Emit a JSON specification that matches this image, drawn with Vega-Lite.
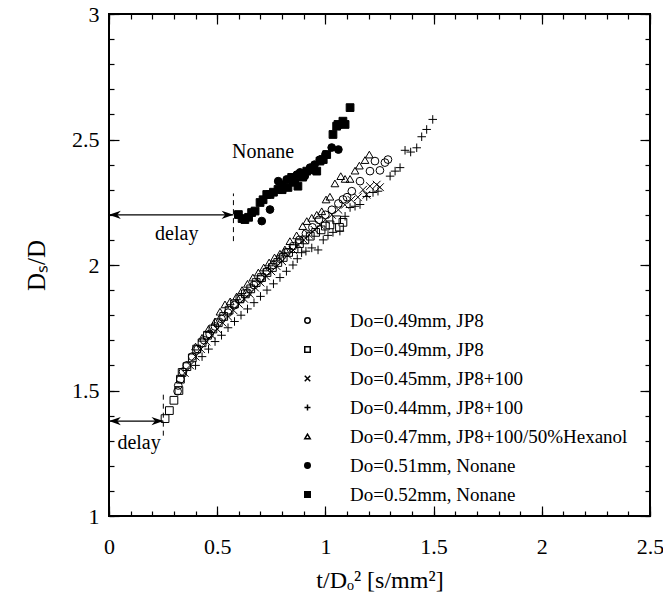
{
  "$schema": "https://vega.github.io/schema/vega-lite/v6.json",
  "width": 541,
  "height": 502,
  "autosize": "none",
  "padding": {"left": 109, "top": 14, "right": 13, "bottom": 93},
  "background": "white",
  "config": {
    "view": {"stroke": "black", "strokeWidth": 2},
    "axis": {"domain": false, "grid": false, "labelFont": "Liberation Serif", "titleFont": "Liberation Serif", "labelFontSize": 21, "titleFontSize": 22, "titleFontWeight": "normal", "tickColor": "black", "labelColor": "black", "titleColor": "black", "tickWidth": 1.2},
    "legend": {"labelFont": "Liberation Serif", "labelFontSize": 19, "labelColor": "black"},
    "text": {"font": "Liberation Serif", "fontSize": 20, "color": "black"}
  },
  "datasets": {
    "pts": [
      {"s":"A","x":0.317,"y":1.497},{"s":"A","x":0.32,"y":1.52},{"s":"A","x":0.33,"y":1.545},{"s":"A","x":0.342,"y":1.575},{"s":"A","x":0.36,"y":1.6},{"s":"A","x":0.385,"y":1.635},{"s":"A","x":0.41,"y":1.665},{"s":"A","x":0.44,"y":1.7},{"s":"A","x":0.465,"y":1.725},{"s":"A","x":0.49,"y":1.755},{"s":"A","x":0.52,"y":1.785},{"s":"A","x":0.55,"y":1.81},{"s":"A","x":0.58,"y":1.84},{"s":"A","x":0.61,"y":1.865},{"s":"A","x":0.64,"y":1.89},{"s":"A","x":0.67,"y":1.92},{"s":"A","x":0.7,"y":1.945},{"s":"A","x":0.73,"y":1.975},{"s":"A","x":0.76,"y":2.0},{"s":"A","x":0.79,"y":2.025},{"s":"A","x":0.82,"y":2.05},{"s":"A","x":0.85,"y":2.075},{"s":"A","x":0.88,"y":2.1},{"s":"A","x":0.91,"y":2.125},{"s":"A","x":0.94,"y":2.15},{"s":"A","x":0.97,"y":2.18},{"s":"A","x":1.0,"y":2.2},{"s":"A","x":1.03,"y":2.22},{"s":"A","x":1.06,"y":2.245},{"s":"A","x":1.081,"y":2.261},{"s":"A","x":1.1,"y":2.27},{"s":"A","x":1.122,"y":2.294},{"s":"A","x":1.16,"y":2.334},{"s":"A","x":1.206,"y":2.374},{"s":"A","x":1.229,"y":2.414},{"s":"A","x":1.252,"y":2.377},{"s":"A","x":1.275,"y":2.408},{"s":"A","x":1.289,"y":2.42},
      {"s":"B","x":0.259,"y":1.388},{"s":"B","x":0.279,"y":1.42},{"s":"B","x":0.3,"y":1.461},{"s":"B","x":0.323,"y":1.5},{"s":"B","x":0.338,"y":1.572},{"s":"B","x":0.33,"y":1.545},{"s":"B","x":0.36,"y":1.595},{"s":"B","x":0.385,"y":1.63},{"s":"B","x":0.405,"y":1.665},{"s":"B","x":0.43,"y":1.69},{"s":"B","x":0.455,"y":1.72},{"s":"B","x":0.48,"y":1.745},{"s":"B","x":0.505,"y":1.77},{"s":"B","x":0.53,"y":1.795},{"s":"B","x":0.555,"y":1.82},{"s":"B","x":0.58,"y":1.845},{"s":"B","x":0.605,"y":1.865},{"s":"B","x":0.63,"y":1.885},{"s":"B","x":0.655,"y":1.905},{"s":"B","x":0.68,"y":1.93},{"s":"B","x":0.705,"y":1.95},{"s":"B","x":0.73,"y":1.97},{"s":"B","x":0.755,"y":1.99},{"s":"B","x":0.78,"y":2.01},{"s":"B","x":0.805,"y":2.03},{"s":"B","x":0.83,"y":2.05},{"s":"B","x":0.855,"y":2.065},{"s":"B","x":0.88,"y":2.085},{"s":"B","x":0.905,"y":2.1},{"s":"B","x":0.93,"y":2.115},{"s":"B","x":0.955,"y":2.13},{"s":"B","x":0.98,"y":2.14},{"s":"B","x":1.0,"y":2.155},{"s":"B","x":1.021,"y":2.16},{"s":"B","x":1.052,"y":2.18},{"s":"B","x":1.081,"y":2.17},{"s":"B","x":1.065,"y":2.15},
      {"s":"C","x":0.35,"y":1.57},{"s":"C","x":0.375,"y":1.6},{"s":"C","x":0.4,"y":1.635},{"s":"C","x":0.425,"y":1.665},{"s":"C","x":0.45,"y":1.695},{"s":"C","x":0.475,"y":1.72},{"s":"C","x":0.5,"y":1.745},{"s":"C","x":0.525,"y":1.77},{"s":"C","x":0.55,"y":1.795},{"s":"C","x":0.575,"y":1.82},{"s":"C","x":0.6,"y":1.845},{"s":"C","x":0.625,"y":1.865},{"s":"C","x":0.65,"y":1.885},{"s":"C","x":0.675,"y":1.91},{"s":"C","x":0.7,"y":1.93},{"s":"C","x":0.725,"y":1.955},{"s":"C","x":0.75,"y":1.975},{"s":"C","x":0.775,"y":1.995},{"s":"C","x":0.8,"y":2.015},{"s":"C","x":0.825,"y":2.04},{"s":"C","x":0.85,"y":2.06},{"s":"C","x":0.875,"y":2.08},{"s":"C","x":0.9,"y":2.1},{"s":"C","x":0.925,"y":2.12},{"s":"C","x":0.95,"y":2.14},{"s":"C","x":0.975,"y":2.16},{"s":"C","x":1.0,"y":2.18},{"s":"C","x":1.03,"y":2.2},{"s":"C","x":1.06,"y":2.22},{"s":"C","x":1.09,"y":2.24},{"s":"C","x":1.12,"y":2.26},{"s":"C","x":1.15,"y":2.27},{"s":"C","x":1.174,"y":2.3},{"s":"C","x":1.19,"y":2.28},{"s":"C","x":1.206,"y":2.314},{"s":"C","x":1.237,"y":2.32},{"s":"C","x":1.252,"y":2.31},
      {"s":"D","x":0.4,"y":1.6},{"s":"D","x":0.43,"y":1.635},{"s":"D","x":0.46,"y":1.665},{"s":"D","x":0.49,"y":1.695},{"s":"D","x":0.52,"y":1.72},{"s":"D","x":0.55,"y":1.75},{"s":"D","x":0.58,"y":1.775},{"s":"D","x":0.61,"y":1.8},{"s":"D","x":0.64,"y":1.825},{"s":"D","x":0.67,"y":1.85},{"s":"D","x":0.7,"y":1.875},{"s":"D","x":0.73,"y":1.9},{"s":"D","x":0.76,"y":1.925},{"s":"D","x":0.79,"y":1.95},{"s":"D","x":0.82,"y":1.975},{"s":"D","x":0.85,"y":2.0},{"s":"D","x":0.87,"y":2.025},{"s":"D","x":0.89,"y":2.049},{"s":"D","x":0.91,"y":2.055},{"s":"D","x":0.937,"y":2.068},{"s":"D","x":0.966,"y":2.06},{"s":"D","x":0.99,"y":2.1},{"s":"D","x":1.012,"y":2.118},{"s":"D","x":1.035,"y":2.13},{"s":"D","x":1.067,"y":2.135},{"s":"D","x":1.091,"y":2.194},{"s":"D","x":1.114,"y":2.229},{"s":"D","x":1.137,"y":2.234},{"s":"D","x":1.16,"y":2.241},{"s":"D","x":1.191,"y":2.273},{"s":"D","x":1.22,"y":2.289},{"s":"D","x":1.243,"y":2.294},{"s":"D","x":1.299,"y":2.354},{"s":"D","x":1.322,"y":2.374},{"s":"D","x":1.345,"y":2.388},{"s":"D","x":1.368,"y":2.457},{"s":"D","x":1.394,"y":2.45},{"s":"D","x":1.422,"y":2.467},{"s":"D","x":1.445,"y":2.511},{"s":"D","x":1.468,"y":2.54},{"s":"D","x":1.496,"y":2.58},
      {"s":"E","x":0.4,"y":1.675},{"s":"E","x":0.43,"y":1.71},{"s":"E","x":0.46,"y":1.745},{"s":"E","x":0.49,"y":1.775},{"s":"E","x":0.513,"y":1.814},{"s":"E","x":0.536,"y":1.843},{"s":"E","x":0.56,"y":1.855},{"s":"E","x":0.59,"y":1.875},{"s":"E","x":0.615,"y":1.9},{"s":"E","x":0.64,"y":1.925},{"s":"E","x":0.665,"y":1.95},{"s":"E","x":0.69,"y":1.97},{"s":"E","x":0.715,"y":1.99},{"s":"E","x":0.74,"y":2.01},{"s":"E","x":0.765,"y":2.03},{"s":"E","x":0.79,"y":2.045},{"s":"E","x":0.813,"y":2.062},{"s":"E","x":0.836,"y":2.095},{"s":"E","x":0.867,"y":2.118},{"s":"E","x":0.895,"y":2.155},{"s":"E","x":0.914,"y":2.175},{"s":"E","x":0.937,"y":2.188},{"s":"E","x":0.96,"y":2.2},{"s":"E","x":0.983,"y":2.214},{"s":"E","x":1.003,"y":2.261},{"s":"E","x":1.021,"y":2.272},{"s":"E","x":1.044,"y":2.325},{"s":"E","x":1.071,"y":2.354},{"s":"E","x":1.091,"y":2.343},{"s":"E","x":1.114,"y":2.343},{"s":"E","x":1.137,"y":2.376},{"s":"E","x":1.157,"y":2.396},{"s":"E","x":1.183,"y":2.418},{"s":"E","x":1.203,"y":2.44},
      {"s":"F","x":0.706,"y":2.175},{"s":"F","x":0.744,"y":2.221},{"s":"F","x":0.782,"y":2.334},{"s":"F","x":0.798,"y":2.321},{"s":"F","x":0.821,"y":2.341},{"s":"F","x":0.85,"y":2.33},{"s":"F","x":0.868,"y":2.36},{"s":"F","x":0.883,"y":2.369},{"s":"F","x":0.905,"y":2.355},{"s":"F","x":0.929,"y":2.388},{"s":"F","x":0.95,"y":2.4},{"s":"F","x":0.975,"y":2.42},{"s":"F","x":1.0,"y":2.44},{"s":"F","x":1.029,"y":2.468},{"s":"F","x":1.06,"y":2.46},
      {"s":"G","x":0.598,"y":2.201},{"s":"G","x":0.615,"y":2.185},{"s":"G","x":0.628,"y":2.181},{"s":"G","x":0.645,"y":2.19},{"s":"G","x":0.659,"y":2.209},{"s":"G","x":0.675,"y":2.215},{"s":"G","x":0.698,"y":2.249},{"s":"G","x":0.712,"y":2.26},{"s":"G","x":0.729,"y":2.281},{"s":"G","x":0.744,"y":2.281},{"s":"G","x":0.76,"y":2.29},{"s":"G","x":0.781,"y":2.301},{"s":"G","x":0.8,"y":2.3},{"s":"G","x":0.827,"y":2.309},{"s":"G","x":0.844,"y":2.349},{"s":"G","x":0.858,"y":2.33},{"s":"G","x":0.873,"y":2.314},{"s":"G","x":0.895,"y":2.35},{"s":"G","x":0.914,"y":2.374},{"s":"G","x":0.94,"y":2.38},{"s":"G","x":0.96,"y":2.374},{"s":"G","x":0.975,"y":2.414},{"s":"G","x":0.99,"y":2.42},{"s":"G","x":1.006,"y":2.44},{"s":"G","x":1.035,"y":2.52},{"s":"G","x":1.052,"y":2.553},{"s":"G","x":1.058,"y":2.56},{"s":"G","x":1.081,"y":2.573},{"s":"G","x":1.091,"y":2.56},{"s":"G","x":1.114,"y":2.627}
    ],
    "dash": [{"x":0.575,"y":2.095,"y2":2.285},{"x":0.251,"y":1.32,"y2":1.485}],
    "arrows": [{"x":0,"x2":0.575,"y":2.2},{"x":0,"x2":0.251,"y":1.378}],
    "labels": [{"x":0.712,"y":2.452,"t":"Nonane"},{"x":0.313,"y":2.125,"t":"delay"},{"x":0.139,"y":1.29,"t":"delay"}]
  },
  "layer": [
    {
      "data": {"name": "pts"},
      "mark": {"type": "point", "filled": false, "stroke": "black", "strokeWidth": 1, "size": 60, "opacity": 1},
      "encoding": {
        "x": {"field": "x", "type": "quantitative", "scale": {"domain": [0, 2.5], "nice": false, "zero": false},
              "axis": {"orient": "bottom", "values": [0, 0.5, 1, 1.5, 2, 2.5], "format": "~g", "tickSize": -10, "labelPadding": 30, "labelFont": "Liberation Serif", "labelFontSize": 22, "titleFont": "Liberation Serif", "titleFontSize": 24, "titleFontWeight": "normal", "title": "t/Dₒ² [s/mm²]", "titlePadding": 11, "labelFlush": false}},
        "y": {"field": "y", "type": "quantitative", "scale": {"domain": [1, 3], "nice": false, "zero": false},
              "axis": {"orient": "left", "values": [1, 1.5, 2, 2.5, 3], "format": "~g", "tickSize": -10, "labelPadding": 20, "labelFont": "Liberation Serif", "labelFontSize": 22, "titleFont": "Liberation Serif", "titleFontSize": 25, "titleFontWeight": "normal", "title": "Dₛ/D", "titlePadding": 22, "labelFlush": false}},
        "shape": {"field": "s", "type": "nominal",
                  "scale": {"domain": ["A","B","C","D","E","F","G"], "range": ["circle","square","M-1,-1L1,1M-1,1L1,-1","M-1.1,0L1.1,0M0,-1.1L0,1.1","triangle-up","circle","square"]},
                  "legend": {"title": null, "orient": "none", "legendX": 189, "legendY": 297, "symbolSize": 30, "labelOffset": 33, "rowPadding": 9, "padding": 0, "labelLimit": 0,
                             "encode": {"symbols": {"update": {"stroke": {"value": "black"}, "strokeWidth": {"value": 1}}}},
                             "labelExpr": "{'A':'Do=0.49mm, JP8','B':'Do=0.49mm, JP8','C':'Do=0.45mm, JP8+100','D':'Do=0.44mm, JP8+100','E':'Do=0.47mm, JP8+100/50%Hexanol','F':'Do=0.51mm, Nonane','G':'Do=0.52mm, Nonane'}[datum.label]"}},
        "fill": {"field": "s", "type": "nominal",
                 "scale": {"domain": ["A","B","C","D","E","F","G"], "range": ["transparent","transparent","transparent","transparent","transparent","black","black"]},
                 "legend": {"title": null, "orient": "none", "legendX": 189, "legendY": 297, "symbolSize": 30, "labelOffset": 33, "rowPadding": 9, "padding": 0, "labelLimit": 0,
                             "encode": {"symbols": {"update": {"stroke": {"value": "black"}, "strokeWidth": {"value": 1}}}},
                             "labelExpr": "{'A':'Do=0.49mm, JP8','B':'Do=0.49mm, JP8','C':'Do=0.45mm, JP8+100','D':'Do=0.44mm, JP8+100','E':'Do=0.47mm, JP8+100/50%Hexanol','F':'Do=0.51mm, Nonane','G':'Do=0.52mm, Nonane'}[datum.label]"}}
      }
    },
    {
      "data": {"name": "dash"},
      "mark": {"type": "rule", "strokeDash": [5, 4], "color": "black", "strokeWidth": 1},
      "encoding": {
        "x": {"field": "x", "type": "quantitative", "scale": {"domain": [0, 2.5], "nice": false, "zero": false},
              "axis": {"orient": "bottom", "values": [0,0.1,0.2,0.3,0.4,0.5,0.6,0.7,0.8,0.9,1,1.1,1.2,1.3,1.4,1.5,1.6,1.7,1.8,1.9,2,2.1,2.2,2.3,2.4,2.5], "tickSize": -5, "labels": false, "title": null}},
        "y": {"field": "y", "type": "quantitative", "scale": {"domain": [1, 3], "nice": false, "zero": false},
              "axis": {"orient": "left", "values": [1,1.1,1.2,1.3,1.4,1.5,1.6,1.7,1.8,1.9,2,2.1,2.2,2.3,2.4,2.5,2.6,2.7,2.8,2.9,3], "tickSize": -5, "labels": false, "title": null}},
        "y2": {"field": "y2"}
      }
    },
    {
      "data": {"name": "arrows"},
      "mark": {"type": "rule", "color": "black", "strokeWidth": 1.2},
      "encoding": {
        "x": {"field": "x", "type": "quantitative", "scale": {"domain": [0, 2.5], "nice": false, "zero": false},
              "axis": {"orient": "top", "values": [0, 0.5, 1, 1.5, 2, 2.5], "tickSize": -10, "labels": false, "title": null}},
        "x2": {"field": "x2"},
        "y": {"field": "y", "type": "quantitative", "scale": {"domain": [1, 3], "nice": false, "zero": false},
              "axis": {"orient": "right", "values": [1, 1.5, 2, 2.5, 3], "tickSize": -10, "labels": false, "title": null}}
      }
    },
    {
      "data": {"name": "arrows"},
      "mark": {"type": "point", "shape": "M0,0L2,-0.7L1.4,0L2,0.7Z", "filled": true, "color": "black", "size": 140, "opacity": 1},
      "encoding": {
        "x": {"field": "x", "type": "quantitative", "scale": {"domain": [0, 2.5], "nice": false, "zero": false},
              "axis": {"orient": "top", "values": [0,0.1,0.2,0.3,0.4,0.5,0.6,0.7,0.8,0.9,1,1.1,1.2,1.3,1.4,1.5,1.6,1.7,1.8,1.9,2,2.1,2.2,2.3,2.4,2.5], "tickSize": -5, "labels": false, "title": null}},
        "y": {"field": "y", "type": "quantitative", "scale": {"domain": [1, 3], "nice": false, "zero": false},
              "axis": {"orient": "right", "values": [1,1.1,1.2,1.3,1.4,1.5,1.6,1.7,1.8,1.9,2,2.1,2.2,2.3,2.4,2.5,2.6,2.7,2.8,2.9,3], "tickSize": -5, "labels": false, "title": null}}
      }
    },
    {
      "data": {"name": "arrows"},
      "mark": {"type": "point", "shape": "M0,0L-2,-0.7L-1.4,0L-2,0.7Z", "filled": true, "color": "black", "size": 140, "opacity": 1},
      "encoding": {
        "x": {"field": "x2", "type": "quantitative", "scale": {"domain": [0, 2.5], "nice": false, "zero": false}, "axis": null},
        "y": {"field": "y", "type": "quantitative", "scale": {"domain": [1, 3], "nice": false, "zero": false}, "axis": null}
      }
    },
    {
      "data": {"name": "labels"},
      "mark": {"type": "text", "align": "center", "baseline": "middle"},
      "encoding": {
        "x": {"field": "x", "type": "quantitative", "scale": {"domain": [0, 2.5], "nice": false, "zero": false}, "axis": null},
        "y": {"field": "y", "type": "quantitative", "scale": {"domain": [1, 3], "nice": false, "zero": false}, "axis": null},
        "text": {"field": "t"}
      }
    }
  ],
  "resolve": {"axis": {"x": "independent", "y": "independent"}}
}
